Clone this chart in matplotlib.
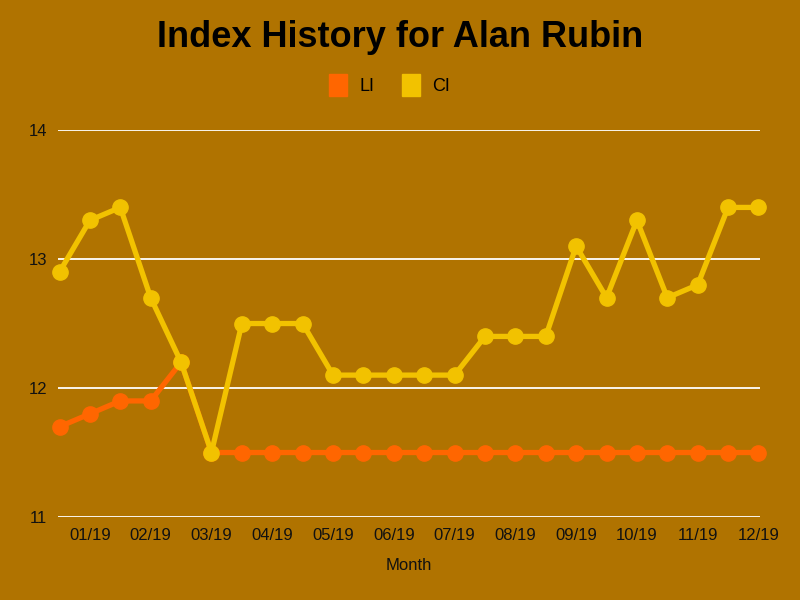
import matplotlib.pyplot as plt
from matplotlib.patches import Patch

### Index history chart (LI / CI) per month

plt.rcParams['font.family'] = ['Liberation Sans', 'DejaVu Sans']

BG = '#b07300'
LI_COLOR = '#ff6600'
CI_COLOR = '#f2c200'

x = list(range(24))
li = [11.7, 11.8, 11.9, 11.9, 12.2, 11.5, 11.5, 11.5, 11.5, 11.5, 11.5, 11.5,
      11.5, 11.5, 11.5, 11.5, 11.5, 11.5, 11.5, 11.5, 11.5, 11.5, 11.5, 11.5]
ci = [12.9, 13.3, 13.4, 12.7, 12.2, 11.5, 12.5, 12.5, 12.5, 12.1, 12.1, 12.1,
      12.1, 12.1, 12.4, 12.4, 12.4, 13.1, 12.7, 13.3, 12.7, 12.8, 13.4, 13.4]
tick_pos = [1, 3, 5, 7, 9, 11, 13, 15, 17, 19, 21, 23]
tick_labels = ['01/19', '02/19', '03/19', '04/19', '05/19', '06/19',
               '07/19', '08/19', '09/19', '10/19', '11/19', '12/19']
y_ticks = [11, 12, 13, 14]


def main():
    fig = plt.figure(figsize=(8, 6), dpi=100, facecolor=BG)
    ax = fig.add_axes([0.0725, 0.1383, 0.8775, 0.645], facecolor=BG)

    ax.plot(x, li, color=LI_COLOR, lw=3.8, marker='o', ms=11, zorder=3, clip_on=False)
    ax.plot(x, ci, color=CI_COLOR, lw=3.8, marker='o', ms=11, zorder=4, clip_on=False)

    ax.set_xlim(-0.05, 23.05)
    ax.set_ylim(11, 14)
    ax.set_yticks(y_ticks)
    ax.set_yticklabels([str(v) for v in y_ticks])
    ax.set_xticks(tick_pos)
    ax.set_xticklabels(tick_labels)
    ax.grid(axis='y', color='white', lw=1.3)
    ax.set_axisbelow(True)
    for s in ax.spines.values():
        s.set_visible(False)
    ax.tick_params(length=0, labelsize=12, colors='#111111', pad=8)
    ax.tick_params(axis='y', pad=8)
    ax.set_xlabel('Month', fontsize=12, color='#111111', labelpad=11)

    fig.suptitle('Index History for Alan Rubin', fontsize=26, fontweight='bold',
                 y=0.966, color='black')

    handles = [Patch(color=LI_COLOR), Patch(color=CI_COLOR)]
    fig.legend(handles, ['LI', 'CI'], loc='center', bbox_to_anchor=(0.487, 0.859),
               ncol=2, frameon=False, fontsize=13, handlelength=1.0, handleheight=1.5,
               handletextpad=0.7, columnspacing=1.5)

    fig.savefig('out.png', dpi=100, facecolor=BG)


if __name__ == '__main__':
    main()
